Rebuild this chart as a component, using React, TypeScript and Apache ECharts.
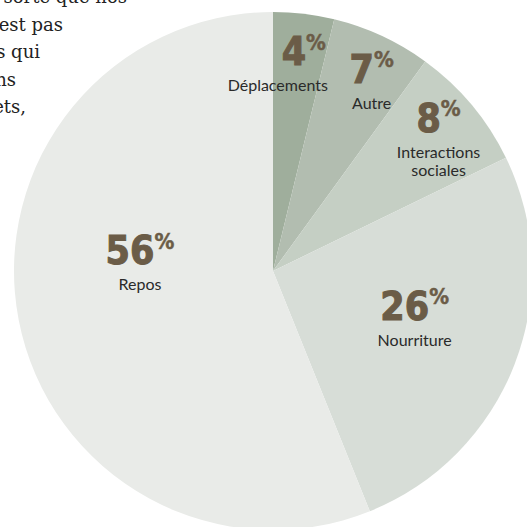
import React, { useEffect, useRef } from "react";
import * as echarts from "echarts";

// ---- data ----
const categories = ["Déplacements", "Autre", "Interactions\nsociales", "Nourriture", "Repos"];
const shares = [3.8, 6.2, 7.8, 26.1, 56.1];
const shownPercents = [4, 7, 8, 26, 56];
const sliceColors = ["#9fae9c", "#b2bdb0", "#c5cfc4", "#d7ddd7", "#e9ebe8"];
const backdropLines = ["sorte que nos", "est pas", "s qui", "ns", "ets,"];

// ---- style / layout config ----
const LABEL_SHIFT: [number, number][] = [
  [15, -78],
  [43, -72],
  [64, -48],
  [18, -3],
  [-3, -36],
];
const BACKDROP_END_X = [127, 63, 40, 16, 26];
const BACKDROP_BASELINE = [5, 33, 60, 88, 115];

const NUM_FONT = "'DejaVu Sans Condensed', 'DejaVu Sans', sans-serif";
const NAME_FONT = "Lato, 'Noto Sans', sans-serif";

export default function App() {
  const ref = useRef<HTMLDivElement>(null);
  useEffect(() => {
    if (!ref.current) return;
    const chart = echarts.init(ref.current, null, { renderer: "svg" });
    const data = categories.map((name, i) => ({
      name,
      value: shares[i],
      itemStyle: { color: sliceColors[i] },
    }));
    const nameBase = { fontFamily: NAME_FONT, fontSize: 16, lineHeight: 20, color: "#2a2a2a" };
    chart.setOption({
      animation: false,
      backgroundColor: "#ffffff",
      graphic: backdropLines.map((t, i) => ({
        type: "text",
        z: 0,
        x: BACKDROP_END_X[i],
        y: BACKDROP_BASELINE[i],
        style: {
          text: t,
          fill: "#222222",
          font: "18px 'DejaVu Serif', serif",
          textAlign: "right",
          textVerticalAlign: "bottom",
          verticalAlign: "bottom",
        },
      })),
      series: [
        {
          type: "pie",
          z: 5,
          silent: true,
          center: [273, 271],
          radius: [0, 259],
          startAngle: 90,
          clockwise: true,
          avoidLabelOverlap: false,
          itemStyle: { borderWidth: 0 },
          emphasis: { disabled: true },
          labelLine: { show: false },
          label: {
            show: true,
            position: "inside",
            rotate: 0,
            formatter: (p: any) => {
              const i = p.dataIndex;
              const suffix = i === 0 ? "L" : "";
              const lines = String(categories[i])
                .split("\n")
                .map((l, k) => `{${k === 0 ? "nameA" : "name"}${suffix}|${l}}`)
                .join("\n");
              return `{num|${shownPercents[i]}}{pct|%}\n${lines}`;
            },
            rich: {
              num: {
                fontFamily: NUM_FONT,
                fontWeight: "bold",
                fontSize: 39,
                lineHeight: 40,
                color: "#6b5c47",
                textBorderColor: "#6b5c47",
                textBorderWidth: 1,
                verticalAlign: "bottom",
              },
              pct: {
                fontFamily: NUM_FONT,
                fontWeight: "bold",
                fontSize: 22,
                lineHeight: 22,
                color: "#6b5c47",
                textBorderColor: "#6b5c47",
                textBorderWidth: 0.5,
                verticalAlign: "top",
              },
              nameA: { ...nameBase, padding: [7, 0, 0, 0] },
              name: { ...nameBase, padding: [3, 0, 0, 0] },
              nameAL: { ...nameBase, padding: [7, 52, 0, 0] },
              nameL: { ...nameBase, padding: [3, 52, 0, 0] },
            },
          },
          labelLayout: (params: any) => {
            const s = LABEL_SHIFT[params.dataIndex];
            return { dx: s[0], dy: s[1] };
          },
          data,
        },
      ],
    });
    return () => chart.dispose();
  }, []);
  return (
    <div
      ref={ref}
      style={{ position: "fixed", left: 0, top: 0, width: 527, height: 527 }}
    />
  );
}
